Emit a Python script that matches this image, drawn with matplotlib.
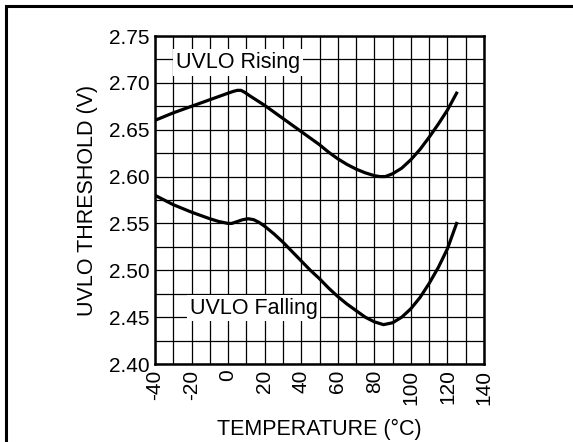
import matplotlib
matplotlib.use("Agg")
import matplotlib.pyplot as plt
from matplotlib.patches import Rectangle

plt.rcParams["font.family"] = ["Liberation Sans", "DejaVu Sans"]

# UVLO threshold vs temperature
rising_temp = [-40, -30, -20, -10, 0, 3, 5, 7, 9, 12, 20, 30, 40, 45, 50, 55, 60, 65, 70,
               75, 80, 83, 86, 90, 95, 100, 105, 110, 115, 120, 125]
rising_v = [2.660, 2.668, 2.675, 2.682, 2.689, 2.691, 2.692, 2.692, 2.690, 2.686, 2.676,
            2.662, 2.648, 2.641, 2.634, 2.626, 2.619, 2.613, 2.608, 2.604, 2.601, 2.600,
            2.600, 2.603, 2.609, 2.618, 2.629, 2.642, 2.656, 2.671, 2.689]

falling_temp = [-40, -30, -20, -10, -5, 0, 2, 5, 8, 11, 14, 17, 20, 25, 30, 35, 40, 45, 50,
                55, 60, 65, 70, 75, 80, 85, 90, 95, 100, 105, 110, 115, 120, 125]
falling_v = [2.580, 2.570, 2.562, 2.555, 2.552, 2.550, 2.550, 2.552, 2.554, 2.555, 2.554,
             2.551, 2.547, 2.539, 2.530, 2.520, 2.510, 2.500, 2.491, 2.481, 2.472, 2.464,
             2.457, 2.450, 2.445, 2.442, 2.444, 2.450, 2.459, 2.471, 2.486, 2.503, 2.523,
             2.550]

x_ticks = list(range(-40, 141, 20))
y_ticks = [2.40, 2.45, 2.50, 2.55, 2.60, 2.65, 2.70, 2.75]

fig = plt.figure(figsize=(5.73, 4.42), dpi=100)
ax = fig.add_axes([155 / 573, 1 - 364 / 442, 329 / 573, 328 / 442])

# outer frame (cut off at right and bottom, like the reference)
fig.patches.append(Rectangle((6 / 573, -0.05), 1.1, 1 - 6 / 442 + 0.05,
                             transform=fig.transFigure, fill=False,
                             edgecolor="black", linewidth=2.2))

ax.plot(rising_temp, rising_v, color="black", linewidth=2.3, zorder=3,
        solid_joinstyle="round")
ax.plot(falling_temp, falling_v, color="black", linewidth=2.3, zorder=3,
        solid_joinstyle="round")

ax.set_xlim(-40, 140)
ax.set_ylim(2.40, 2.75)
ax.set_xticks(x_ticks)
ax.set_xticklabels([str(t) for t in x_ticks], rotation=90, fontsize=15)
ax.set_yticks(y_ticks)
ax.set_yticklabels([f"{v:.2f}" for v in y_ticks], fontsize=15)
ax.set_xticks(range(-40, 141, 10), minor=True)
ax.set_yticks([2.40 + 0.025 * i for i in range(15)], minor=True)
ax.grid(which="both", color="black", linewidth=0.9)
ax.tick_params(which="both", length=0, pad=4)
for s in ax.spines.values():
    s.set_linewidth(1.8)

ax.set_xlabel("TEMPERATURE (°C)", fontsize=15.5, labelpad=10)
ax.set_ylabel("UVLO THRESHOLD (V)", fontsize=15.5, labelpad=8)

ax.text(5.5, 2.7215, "UVLO Rising", fontsize=15.5, ha="center", va="center", zorder=4,
        bbox=dict(facecolor="white", edgecolor="none", pad=2))
ax.text(14, 2.4597, "UVLO Falling", fontsize=15.5, ha="center", va="center", zorder=4,
        bbox=dict(facecolor="white", edgecolor="none", pad=2))

fig.savefig("out.png", dpi=100)
